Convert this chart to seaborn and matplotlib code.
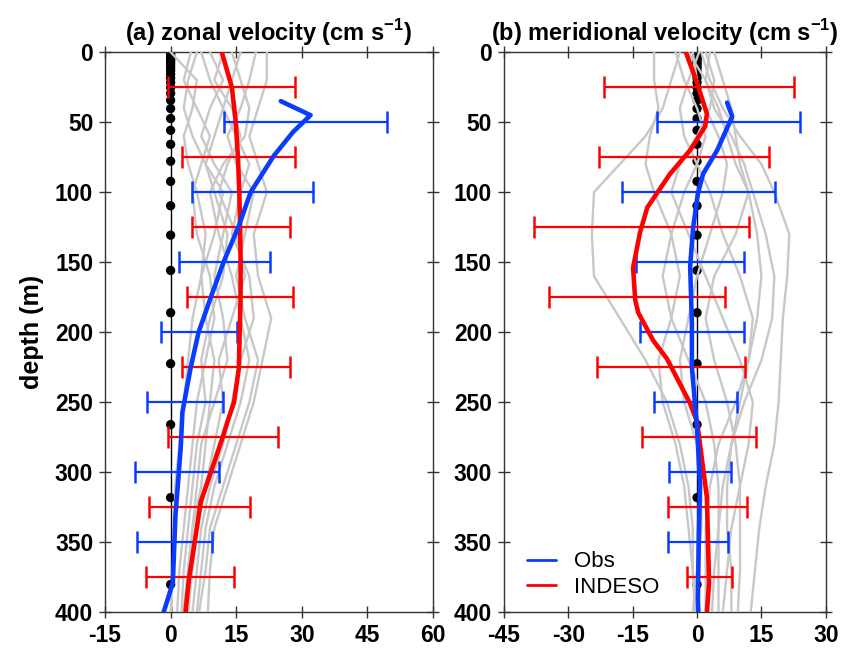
import matplotlib
matplotlib.use("Agg")
import matplotlib.pyplot as plt
import numpy as np
import pandas as pd
import seaborn as sns

# model level depths (m) marked with black dots at x = 0
level_depth = [0.5, 1.5, 2.6, 3.8, 5.1, 6.4, 7.9, 9.6, 11.4, 13.5, 15.8, 18.5,
               21.6, 25.2, 29.4, 34.4, 40.3, 47.4, 55.8, 65.8, 77.9, 92.3,
               109.7, 130.7, 155.9, 186.1, 222.5, 266.0, 318.1, 380.2]

# individual INDESO profiles (grey), sampled at these depths
grey_depth = [0, 20, 40, 60, 80, 100, 130, 160, 190, 220, 250, 280, 310, 340, 370, 400]
grey_u = [
    [0, 6, 5, 3, 4, 6, 8, 7, 5, 4, 3, 2, 1, 1, 0.5, 0],
    [4.6, 3, 6, 9, 7, 5, 6, 9, 10, 8, 6, 5, 4, 3, 2, 1.5],
    [7, 9, 12, 10, 8, 10, 13, 12, 9, 7, 8, 6, 5, 4, 3, 2.5],
    [9, 12, 9, 7, 10, 14, 12, 10, 12, 13, 10, 7, 6, 5, 4, 3],
    [12, 10, 14, 16, 13, 11, 15, 17, 14, 11, 12, 10, 8, 6, 5, 4],
    [16, 14, 12, 15, 18, 16, 14, 18, 19, 16, 14, 12, 9, 7, 6, 5],
    [19.5, 18, 16, 13, 15, 19, 17, 15, 17, 20, 18, 15, 12, 9, 8, 6.5],
    [22, 22, 20, 18, 20, 22, 19, 20, 23, 21, 19, 16, 13, 10, 9, 8.5],
    [14, 16, 18, 17, 12, 9, 11, 14, 16, 18, 16, 13, 10, 8, 7, 6],
    [6, 4, 3, 5, 8, 12, 10, 7, 8, 10, 9, 8, 7, 5, 4, 3],
]
grey_v = [
    [-4, -6, -8, -12, -18, -24, -24.5, -24, -18, -12, -7, -4, -2, -1, -1, -0.5],
    [1, 3, 6, 10, 15, 18, 21.5, 21, 20, 19.5, 19, 18, 16, 14.5, 13.5, 12.5],
    [-10, -10, -9, -11, -12, -10, -6, -4, -6, -9, -8, -5, -3, -2, -1, 0],
    [3, 2, 4, 8, 11, 13, 16, 18, 17.5, 15, 11, 8, 6, 5, 5, 5],
    [-2, 2, 5, 7, 9, 12, 9, 4, 2, 4, 7, 9, 10, 10, 10, 9.5],
    [0.5, -2, -4, -3, 0, 3, 6, 10, 13, 12, 9, 5, 3, 2, 2, 2],
    [-5, -3, 0, 2, 0, -3, -6, -8, -6, -2, 2, 4, 5, 5, 4, 3.5],
    [2, 4, 3, 0, -4, -6, -2, 2, 6, 10, 13, 12, 10, 8, 7, 6],
    [-1, 0, 2, 5, 7, 6, 3, 0, -2, -4, -3, 0, 1, 1, 0, -1],
    [4, 6, 8, 9, 10, 12, 14, 15, 14, 12, 10, 8, 7, 7, 8, 8],
]

# mean profiles
obs_u_depth = [35, 45, 57, 74, 100, 124, 150, 175, 200, 225, 257, 283, 331, 379, 400]
obs_u = [25.2, 32.0, 28.0, 23.6, 18.3, 15.6, 12.1, 9.2, 6.4, 4.6, 2.7, 2.3, 1.1, 0.5, -1.6]
mod_u_depth = [0, 25, 50, 75, 100, 125, 150, 175, 200, 226, 250, 264, 276, 300, 321, 354, 376, 400]
mod_u = [11.7, 14.0, 14.9, 15.4, 15.7, 15.9, 16.0, 16.0, 15.8, 15.6, 14.5, 13.0, 11.8, 9.2, 6.9, 5.3, 4.2, 3.4]

obs_v_depth = [36, 46, 70, 87, 101, 125, 153, 194, 225, 268, 308, 350, 391, 400]
obs_v = [7.0, 8.2, 4.7, 1.4, 0.2, -0.9, -1.6, -1.2, -1.2, 0.0, 0.7, 0.4, 0.2, 0.3]
mod_v_depth = [0, 22, 44, 53, 70, 87, 111, 129, 154, 177, 186, 206, 219, 251, 264, 318, 379, 400]
mod_v = [-2.6, 0.0, 2.3, 1.9, -1.6, -6.3, -11.6, -13.3, -14.9, -14.4, -13.7, -10.2, -7.0, -1.6, 0.0, 2.3, 2.8, 2.3]

# error bars (low / high ends)
obs_bar_depth = [50, 100, 150, 200, 250, 300, 350]
obs_u_lo = [12.1, 5.0, 1.9, -2.3, -5.5, -8.2, -7.6]
obs_u_hi = [49.4, 32.5, 22.7, 15.1, 11.9, 11.0, 9.4]
obs_v_lo = [-9.3, -17.5, -14.2, -13.2, -10.0, -6.5, -6.8]
obs_v_hi = [24.0, 18.2, 11.0, 11.0, 9.4, 7.9, 7.2]

mod_bar_depth = [25, 75, 125, 175, 225, 275, 325, 375]
mod_u_lo = [-0.7, 2.5, 5.0, 3.7, 2.7, -0.7, -5.0, -5.7]
mod_u_hi = [28.4, 28.4, 27.2, 28.1, 27.2, 24.5, 18.1, 14.6]
mod_v_lo = [-21.7, -22.9, -38.0, -34.5, -23.3, -12.8, -6.8, -2.3]
mod_v_hi = [22.6, 16.8, 12.1, 6.5, 11.2, 13.7, 11.7, 8.2]

BLUE = "#0a3cff"
RED = "#ff0000"
GREY = "#c8c8c8"

sns.set_theme(style="ticks")
plt.rcParams["font.family"] = ["Liberation Sans", "DejaVu Sans"]
plt.rcParams["font.weight"] = "bold"
plt.rcParams["text.color"] = "black"
plt.rcParams["axes.labelcolor"] = "black"
plt.rcParams["axes.unicode_minus"] = False
plt.rcParams["mathtext.fontset"] = "custom"
plt.rcParams["mathtext.rm"] = "Liberation Sans:bold"
plt.rcParams["mathtext.bf"] = "Liberation Sans:bold"

fig = plt.figure(figsize=(8.54, 6.52), dpi=100)
ax1 = fig.add_axes([0.123, 0.061, 0.384, 0.859])
ax2 = fig.add_axes([0.590, 0.061, 0.377, 0.859])


def draw_panel(ax, grey, obs_d, obs_x, mod_d, mod_x, olo, ohi, mlo, mhi):
    ax.axvline(0, color="black", lw=1.0, zorder=1)
    dots = pd.DataFrame({"x": np.zeros(len(level_depth)), "depth": level_depth})
    sns.scatterplot(data=dots, x="x", y="depth", ax=ax, color="black",
                    s=45, edgecolor="none", zorder=2, legend=False)
    for prof in grey:
        g = pd.DataFrame({"x": prof, "depth": grey_depth})
        sns.lineplot(data=g, x="x", y="depth", ax=ax, orient="y", sort=False,
                     estimator=None, color=GREY, lw=1.7, zorder=3)
    olo, ohi, mlo, mhi = map(np.array, (olo, ohi, mlo, mhi))
    ax.errorbar((mlo + mhi) / 2, mod_bar_depth, xerr=(mhi - mlo) / 2, fmt="none",
                ecolor=RED, elinewidth=1.6, capsize=8, capthick=1.8, zorder=4)
    ax.errorbar((olo + ohi) / 2, obs_bar_depth, xerr=(ohi - olo) / 2, fmt="none",
                ecolor=BLUE, elinewidth=1.6, capsize=8, capthick=1.8, zorder=4)
    m = pd.DataFrame({"x": mod_x, "depth": mod_d})
    sns.lineplot(data=m, x="x", y="depth", ax=ax, orient="y", sort=False,
                 estimator=None, color=RED, lw=3.3, zorder=5, label="INDESO")
    o = pd.DataFrame({"x": obs_x, "depth": obs_d})
    sns.lineplot(data=o, x="x", y="depth", ax=ax, orient="y", sort=False,
                 estimator=None, color=BLUE, lw=3.3, zorder=6, label="Obs")
    ax.set_ylim(400, 0)
    ax.set_yticks(range(0, 401, 50))
    ax.set_xlabel("")
    ax.set_ylabel("")
    for s in ax.spines.values():
        s.set_visible(True)
        s.set_linewidth(1.0)
        s.set_color("#333333")
    ax.tick_params(axis="both", direction="inout", length=9, width=1.0,
                   labelsize=16.5, top=True, right=True, pad=4, colors="#333333",
                   labelcolor="black")


draw_panel(ax1, grey_u, obs_u_depth, obs_u, mod_u_depth, mod_u,
           obs_u_lo, obs_u_hi, mod_u_lo, mod_u_hi)
draw_panel(ax2, grey_v, obs_v_depth, obs_v, mod_v_depth, mod_v,
           obs_v_lo, obs_v_hi, mod_v_lo, mod_v_hi)

ax1.set_xlim(-15, 60)
ax1.set_xticks(range(-15, 61, 15))
ax2.set_xlim(-45, 30)
ax2.set_xticks(range(-45, 31, 15))

ax1.set_title(r"(a) zonal velocity (cm s$^{-1}$)", fontsize=17, fontweight="bold",
              color="black", pad=8)
ax2.set_title(r"(b) meridional velocity (cm s$^{-1}$)", fontsize=17, fontweight="bold",
              color="black", pad=8)
ax1.set_ylabel("depth (m)", fontsize=18, fontweight="bold", labelpad=8)

ax1.get_legend().remove()
handles, labels = ax2.get_legend_handles_labels()
leg = ax2.legend(handles[::-1], labels[::-1], loc="lower left", bbox_to_anchor=(0.01, -0.01),
                 frameon=False, handlelength=1.3, handletextpad=0.8,
                 labelspacing=0.2, prop={"weight": "normal", "size": 16})
for line in leg.get_lines():
    line.set_linewidth(2.0)
for t in leg.get_texts():
    t.set_color("black")

fig.savefig("out.png", dpi=100)
